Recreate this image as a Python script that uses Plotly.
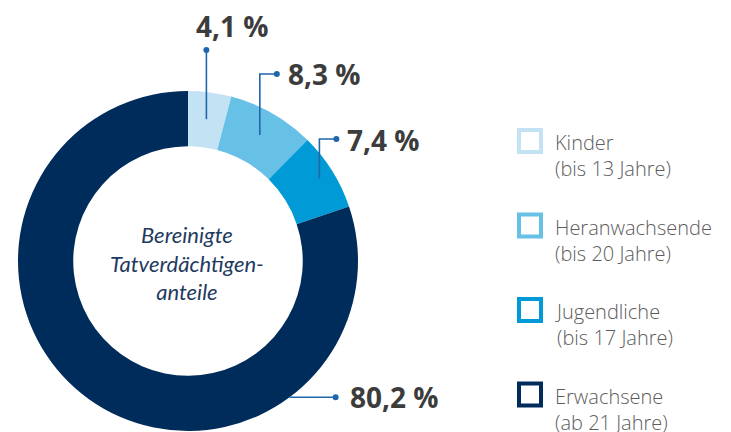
import math
import plotly.graph_objects as go

W, H = 731, 432

categories = ["Kinder", "Heranwachsende", "Jugendliche", "Erwachsene"]
age_notes = ["(bis 13 Jahre)", "(bis 20 Jahre)", "(bis 17 Jahre)", "(ab 21 Jahre)"]
values = [4.1, 8.3, 7.4, 80.2]
value_labels = ["4,1 %", "8,3 %", "7,4 %", "80,2 %"]
colors = ["#c3e3f5", "#67c1e7", "#009bd7", "#002c5c"]
center_text = "Bereinigte<br>Tatverdächtigen-<br>anteile"

FONT = "Lato, Noto Sans, sans-serif"
SANS = "Open Sans, Noto Sans, sans-serif"
LINE = "#1f66ad"
LABEL = "#3c3c3c"

# donut geometry (pixels)
cx, cy, R, hole = 188, 261, 170, 0.675

fig = go.Figure()
fig.add_trace(go.Pie(
    labels=categories, values=values, hole=hole, sort=False,
    direction="clockwise", rotation=0,
    marker=dict(colors=colors, line=dict(width=0)),
    textinfo="none", hoverinfo="label+percent", showlegend=False,
    domain=dict(x=[(cx - R) / W, (cx + R) / W],
                y=[(H - cy - R) / H, (H - cy + R) / H]),
))

# invisible pixel axes for callouts
fig.add_trace(go.Scatter(x=[0, W], y=[0, H], mode="markers",
                         marker=dict(opacity=0), hoverinfo="skip", showlegend=False))

shapes, annotations = [], []
total = sum(values)
cum = 0.0
dots_x, dots_y = [], []
lab_font = dict(family=SANS, size=28, color=LABEL)
for i, v in enumerate(values):
    mid = (cum + v / 2) / total * 2 * math.pi
    cum += v
    if i < 3:
        r = [143, 145, 155][i]
        ex = cx + r * math.sin(mid)
        ey = cy - r * math.cos(mid)
        if i == 0:
            top = 50
            pts = [(ex, ey), (ex, top)]
            dot = (ex, top)
            tx, ty = ex - 12, 25.5
        else:
            top = [None, 74, 139][i]
            pts = [(ex, ey), (ex, top), (ex + 17, top)]
            dot = (ex + 17, top)
            tx, ty = dot[0] + 9, top - 0.5 + (0 if i == 1 else 1)
    else:
        ang = math.radians(143.3)
        ex = cx + R * math.sin(ang)
        ey = cy - R * math.cos(ang)
        pts = [(ex, ey), (ex + 46, ey)]
        dot = (ex + 46, ey)
        tx, ty = dot[0] + 12, ey - 0.5
    annotations.append(dict(x=tx, y=ty, text=f"<b>{value_labels[i]}</b>",
                            xanchor="left", yanchor="middle", showarrow=False,
                            font=lab_font, xref="x", yref="y"))
    path = "M " + " L ".join(f"{x:.1f},{y:.1f}" for x, y in pts)
    shapes.append(dict(type="path", path=path, xref="x", yref="y",
                       line=dict(color=LINE, width=1.6)))
    dots_x.append(dot[0]); dots_y.append(dot[1])

fig.add_trace(go.Scatter(x=dots_x, y=dots_y, mode="markers",
                         marker=dict(color=LINE, size=6), hoverinfo="skip", showlegend=False))

# center text
annotations.append(dict(x=cx - 1, y=cy + 2, text=f"<i>{center_text}</i>", showarrow=False,
                        xref="x", yref="y", xanchor="center", yanchor="middle",
                        font=dict(family=FONT, size=22, color="#1f3a5f")))

# legend
lx, ly0, step, sq = 517, 141, 84.5, 26
for i, (cat, note, col) in enumerate(zip(categories, age_notes, colors)):
    yc = ly0 + i * step
    shapes.append(dict(type="rect", xref="x", yref="y",
                       x0=lx + 2, x1=lx + sq - 2, y0=yc - sq / 2 + 2, y1=yc + sq / 2 - 2,
                       line=dict(color=col, width=4), fillcolor="white"))
    annotations.append(dict(x=lx + 36, y=yc - 14, text=f"{cat}<br>{note}", showarrow=False,
                            xref="x", yref="y", xanchor="left", yanchor="top",
                            align="left",
                            font=dict(family=SANS, size=20, color="#5c5c5c", weight=300)))

fig.update_layout(
    width=W, height=H, margin=dict(l=0, r=0, t=0, b=0),
    paper_bgcolor="white", plot_bgcolor="rgba(0,0,0,0)",
    xaxis=dict(range=[0, W], visible=False, fixedrange=True),
    yaxis=dict(range=[H, 0], visible=False, fixedrange=True),
    shapes=shapes, annotations=annotations, showlegend=False,
)

fig.write_html("out.html", config={"displayModeBar": False},
               post_script="document.body.style.margin='0';document.body.style.overflow='hidden';")
